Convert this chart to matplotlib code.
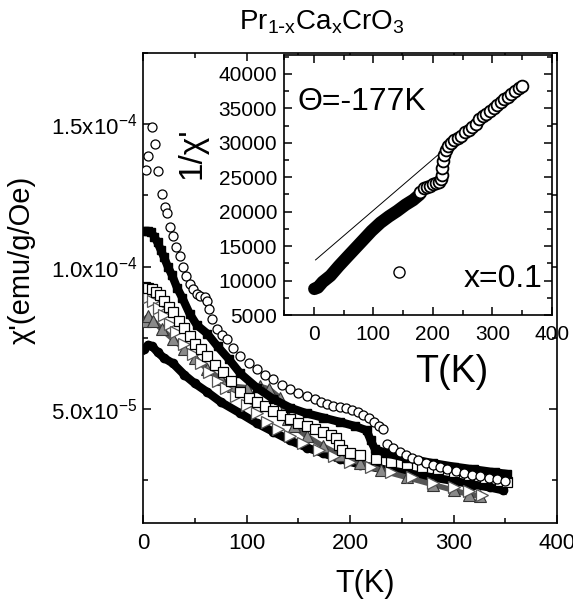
import matplotlib
matplotlib.use('Agg')
import matplotlib.pyplot as plt
from matplotlib.ticker import MultipleLocator, FixedLocator, FixedFormatter

plt.rcParams['font.family'] = ['Liberation Sans', 'DejaVu Sans']
plt.rcParams['mathtext.default'] = 'regular'

# ---- main panel: chi'(T), values in units of 1e-5 emu/g/Oe ----
circ_T = [3, 5, 8.7, 11.6, 14.5, 18, 21, 23, 26, 29, 32, 36, 39, 42, 45, 48, 52, 55, 60, 62,
          64, 67, 71, 76, 81, 87, 94, 102, 110, 118, 126, 134, 142, 150, 158, 166, 172, 178,
          184, 190, 196, 202, 208, 213, 218, 223, 228, 232, 236, 242, 248, 254, 260, 266,
          273, 280, 287, 294, 302, 310, 318, 326, 334, 342, 350]
circ_chi = [13.4, 13.9, 14.9, 14.3, 13.35, 12.55, 12.1, 11.9, 11.4, 11.07, 10.7, 10.37, 10.0,
            9.67, 9.4, 9.2, 9.05, 8.96, 8.93, 8.8, 8.5, 8.15, 7.8, 7.6, 7.46, 7.15, 6.86, 6.6,
            6.4, 6.2, 6.05, 5.85, 5.7, 5.57, 5.46, 5.35, 5.25, 5.17, 5.12, 5.08, 5.05, 4.98,
            4.9, 4.8, 4.7, 4.55, 4.42, 4.3, 3.77, 3.62, 3.5, 3.4, 3.3, 3.2, 3.12, 3.05,
            2.97, 2.9, 2.83, 2.76, 2.7, 2.64, 2.58, 2.53, 2.48]

fsq_T = [2, 5, 8, 11, 14, 17, 20, 24, 28, 33, 38, 45, 52, 62, 72, 83, 94, 110, 126, 142,
         158, 174, 190, 205, 216, 220, 224, 235, 255, 280, 300, 320, 340, 352]
fsq_chi = [11.25, 11.25, 11.2, 11.05, 10.85, 10.6, 10.35, 10.0, 9.7, 9.25, 8.9, 8.35, 7.95,
           7.65, 7.2, 6.75, 6.25, 5.75, 5.35, 5.05, 4.85, 4.7, 4.55, 4.4, 4.25, 3.9, 3.6,
           3.45, 3.28, 3.1, 2.98, 2.88, 2.78, 2.72]

osq_T = [2, 5, 9, 13, 16, 20, 25, 29, 35, 40, 45, 50, 56, 62, 70, 77, 85, 94, 102, 110, 118,
         126, 134, 142, 150, 158, 166, 174, 182, 186, 189, 192, 200, 210, 225, 240, 255, 270,
         285, 300, 315, 330, 345, 352]
osq_chi = [9.3, 9.25, 9.2, 9.1, 9.0, 8.8, 8.6, 8.4, 8.1, 7.85, 7.56, 7.3, 7.1, 6.86, 6.55,
           6.3, 6.0, 5.6, 5.4, 5.25, 5.1, 4.95, 4.8, 4.65, 4.5, 4.4, 4.3, 4.2, 4.1, 4.0, 3.75,
           3.55, 3.45, 3.38, 3.25, 3.15, 3.08, 2.98, 2.88, 2.78, 2.68, 2.58, 2.48, 2.44]

rtri_T = [2, 6, 10, 15, 20, 26, 32, 40, 48, 56, 64, 72, 80, 90, 100, 110, 120, 130, 142,
          155, 170, 185, 200, 220, 240, 260, 280, 300, 315, 328]
rtri_chi = [9.0, 8.95, 8.8, 8.55, 8.3, 8.0, 7.7, 7.3, 6.95, 6.6, 6.3, 6.0, 5.75, 5.45, 5.15,
            4.85, 4.55, 4.3, 4.05, 3.8, 3.55, 3.35, 3.15, 2.95, 2.78, 2.6, 2.42, 2.25, 2.12,
            2.0]

utri_T = [2, 5, 10, 18, 29, 40, 50, 62, 75, 87, 100, 113, 122, 132, 136, 140, 146, 158, 174,
          190, 210, 230, 255, 280, 300, 315, 326]
utri_chi = [8.1, 8.25, 8.1, 7.8, 7.45, 7.1, 6.8, 6.4, 6.05, 5.8, 5.75, 5.8, 5.7, 5.4, 5.0,
            4.65, 4.4, 4.05, 3.7, 3.4, 3.1, 2.85, 2.6, 2.35, 2.15, 2.0, 1.95]

fcir_T = [1, 5, 9, 14, 20, 29, 40, 50, 62, 75, 94, 110, 126, 142, 158, 174, 190, 210, 230,
          255, 280, 300, 319, 335, 348]
fcir_chi = [7.1, 7.25, 7.2, 7.0, 6.8, 6.6, 6.2, 5.9, 5.6, 5.25, 4.85, 4.5, 4.2, 3.9, 3.65,
            3.45, 3.25, 3.05, 2.9, 2.75, 2.6, 2.48, 2.35, 2.25, 2.15]

y_major = [5e-5, 1e-4, 1.5e-4]
y_labels = ['5.0x10$^{-5}$', '1.0x10$^{-4}$', '1.5x10$^{-4}$']

# ---- inset: 1/chi' vs T for x = 0.1 ----
band_T = [1, 7, 15, 28, 42, 57, 70, 83, 97, 112, 126, 140, 154, 167, 178]
band_inv = [8800, 9000, 9800, 10700, 12100, 13500, 14700, 15900, 17200, 18400, 19300,
            20100, 21000, 21700, 22500]
open_T = [178, 185, 190, 195, 200, 205, 210, 213, 215, 216, 217, 219, 222, 226, 230, 236,
          242, 248, 254, 260, 266, 272, 278, 284, 290, 296, 302, 308, 314, 320, 326, 332,
          338, 344, 350]
open_inv = [22900, 23400, 23600, 23800, 24000, 24100, 24300, 24700, 25300, 26300, 27300,
            28200, 28900, 29500, 30000, 30400, 30700, 31000, 31500, 31900, 32300, 32800,
            33500, 33900, 34200, 34600, 35100, 35500, 35900, 36300, 36700, 37100, 37500,
            37900, 38200]
stray_T = [143]
stray_inv = [11300]
fit_T = [3, 208]
fit_inv = [13000, 28200]


def style_axes(ax, size, pad_x, pad_y):
    for s in ax.spines.values():
        s.set_linewidth(1.2)
    ax.tick_params(which='both', direction='in', top=True, right=True, width=1.1,
                   labelsize=size)
    ax.tick_params(which='major', length=6)
    ax.tick_params(which='minor', length=3.5)
    ax.tick_params(axis='x', pad=pad_x)
    ax.tick_params(axis='y', pad=pad_y)


fig = plt.figure(figsize=(5.73, 6.05), dpi=100)
ax = fig.add_axes([0.2496, 0.1355, 0.7225, 0.7769])

scale = 1e-5
ax.plot(fcir_T, [v * scale for v in fcir_chi], '-', color='black', lw=6, zorder=2)
ax.plot(fcir_T, [v * scale for v in fcir_chi], 'o', color='black', ms=6, zorder=2)
ax.plot(utri_T, [v * scale for v in utri_chi], '-', color='#555555', lw=4, zorder=3)
ax.plot(utri_T, [v * scale for v in utri_chi], '^', mfc='#8a8a8a', mec='#333333', ms=8,
        mew=0.8, zorder=3)
ax.plot(rtri_T, [v * scale for v in rtri_chi], '>', mfc='white', mec='#555555', ms=8,
        mew=0.9, zorder=3)
ax.plot(osq_T, [v * scale for v in osq_chi], 's', mfc='white', mec='black', ms=6.5,
        mew=0.9, zorder=4)
ax.plot(fsq_T, [v * scale for v in fsq_chi], '-', color='black', lw=6, zorder=4)
ax.plot(fsq_T, [v * scale for v in fsq_chi], 's', color='black', ms=6, zorder=4)
ax.plot(circ_T, [v * scale for v in circ_chi], 'o', mfc='white', mec='black', ms=6.5,
        mew=0.9, zorder=5)

ax.set_xlim(0, 400)
ax.set_ylim(1e-5, 1.75e-4)
ax.xaxis.set_major_locator(MultipleLocator(100))
ax.xaxis.set_minor_locator(MultipleLocator(50))
ax.yaxis.set_major_locator(FixedLocator(y_major))
ax.yaxis.set_major_formatter(FixedFormatter(y_labels))
ax.yaxis.set_minor_locator(MultipleLocator(2.5e-5))
style_axes(ax, 16, 7, 4)

fig.text(365 / 573, 1 - 584 / 605, 'T(K)', ha='center', va='center', fontsize=22)
fig.text(22 / 573, 1 - 260 / 605, "χ'(emu/g/Oe)", ha='center', va='center',
         rotation=90, fontsize=21)
fig.text(322 / 573, 1 - 29 / 605, r'Pr$_{1\text{-}x}$Ca$_{x}$CrO$_{3}$', ha='center',
         va='baseline', fontsize=20)

# inset
ins = fig.add_axes([0.4956, 0.4793, 0.4677, 0.4298])
ins.plot(fit_T, fit_inv, '-', color='black', lw=0.7, zorder=2)
ins.plot(band_T, band_inv, '-', color='black', lw=9, solid_capstyle='round', zorder=3)
ins.plot(open_T, open_inv, 'o', mfc='white', mec='black', ms=8.5, mew=1.3, zorder=4)
ins.plot(stray_T, stray_inv, 'o', mfc='white', mec='black', ms=8, mew=1.0, zorder=4)
ins.set_xlim(-50, 400)
ins.set_ylim(5000, 42750)
ins.xaxis.set_major_locator(MultipleLocator(100))
ins.xaxis.set_minor_locator(MultipleLocator(50))
ins.yaxis.set_major_locator(MultipleLocator(5000))
ins.yaxis.set_minor_locator(MultipleLocator(2500))
style_axes(ins, 15, 7, 5)

ins.text(0.052, 0.788, 'Θ=-177K', transform=ins.transAxes, ha='left', va='baseline',
         fontsize=23)
ins.text(0.963, 0.108, 'x=0.1', transform=ins.transAxes, ha='right', va='baseline',
         fontsize=23)
fig.text(452 / 573, 1 - 372 / 605, 'T(K)', ha='center', va='center', fontsize=27)
fig.text(192 / 573, 1 - 153 / 605, "1/χ'", ha='center', va='center', rotation=90,
         fontsize=24)

fig.savefig('out.png', dpi=100)
